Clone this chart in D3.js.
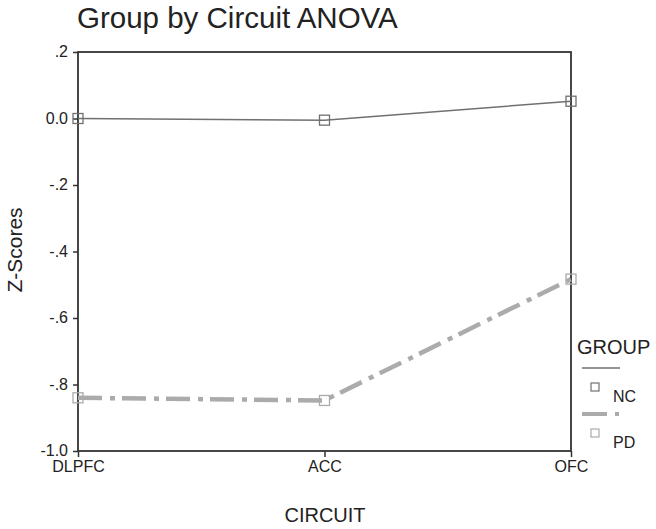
<!DOCTYPE html>
<html>
<head>
<meta charset="utf-8">
<script src="https://d3js.org/d3.v7.min.js"></script>
<style>
  body { margin: 0; background: #fff; }
  text { font-family: "Liberation Sans", Arial, sans-serif; fill: #222; }
</style>
</head>
<body>
<div id="chart"></div>
<script>
// data
var circuits = ["DLPFC", "ACC", "OFC"];
var ncValues = [0.0, -0.005, 0.052];
var pdValues = [-0.84, -0.848, -0.483];
var yTicks = [0.2, 0.0, -0.2, -0.4, -0.6, -0.8, -1.0];
var yTickLabels = [".2", "0.0", "-.2", "-.4", "-.6", "-.8", "-1.0"];
var groups = ["NC", "PD"];

var W = 656, H = 529;
var plotL = 78, plotR = 571, plotT = 52, plotB = 451;

var svg = d3.select("#chart").append("svg")
  .attr("width", W).attr("height", H);

var x = d3.scalePoint().domain(circuits).range([plotL, plotR]);
var y = d3.scaleLinear().domain([-1.0, 0.2]).range([plotB, plotT]);

// title
svg.append("text").attr("x", 77).attr("y", 28)
  .style("font-size", "29.5px").text("Group by Circuit ANOVA");

// frame
svg.append("rect").attr("x", plotL).attr("y", plotT)
  .attr("width", plotR - plotL).attr("height", plotB - plotT)
  .attr("fill", "none").attr("stroke", "#333").attr("stroke-width", 1.8);

// y axis
var yAxis = svg.append("g").attr("transform", "translate(" + plotL + ",0)")
  .call(d3.axisLeft(y).tickValues(yTicks).tickSize(5).tickSizeOuter(0)
    .tickFormat(function (d, i) { return yTickLabels[i]; }));
yAxis.select(".domain").remove();
yAxis.selectAll("line").attr("stroke", "#333").attr("stroke-width", 1.5);
yAxis.selectAll("text").style("font-size", "16px")
  .style("font-family", "Liberation Sans, Arial, sans-serif").attr("fill", "#222")
  .attr("x", -10).attr("dy", "0.3em");

// x axis
var xAxis = svg.append("g").attr("transform", "translate(0," + plotB + ")")
  .call(d3.axisBottom(x).tickSize(6).tickSizeOuter(0));
xAxis.select(".domain").remove();
xAxis.selectAll("line").attr("stroke", "#333").attr("stroke-width", 1.5);
xAxis.selectAll("text").style("font-size", "16px")
  .style("font-family", "Liberation Sans, Arial, sans-serif").attr("fill", "#222")
  .attr("y", 21).attr("dy", 0);

// axis titles
svg.append("text").attr("transform", "translate(22,250) rotate(-90)")
  .attr("text-anchor", "middle").style("font-size", "21px").text("Z-Scores");
svg.append("text").attr("x", 325).attr("y", 522)
  .attr("text-anchor", "middle").style("font-size", "20px").text("CIRCUIT");

var line = d3.line()
  .x(function (d, i) { return x(circuits[i]); })
  .y(function (d) { return y(d); });

var styles = {
  NC: { color: "#707070", width: 1.5, dash: null },
  PD: { color: "#ababab", width: 4.5, dash: "24,8,5,7" }
};
var series = [ncValues, pdValues];

series.forEach(function (vals, k) {
  var s = styles[groups[k]];
  svg.append("path").datum(vals).attr("d", line)
    .attr("fill", "none").attr("stroke", s.color)
    .attr("stroke-width", s.width)
    .attr("stroke-dasharray", s.dash);
  svg.selectAll(".m" + k).data(vals).enter().append("rect")
    .attr("x", function (d, i) { return x(circuits[i]) - 5; })
    .attr("y", function (d) { return y(d) - 5; })
    .attr("width", 10).attr("height", 10)
    .attr("fill", "none").attr("stroke", s.color).attr("stroke-width", 1.3);
});

// legend
var lg = svg.append("g");
lg.append("text").attr("x", 577).attr("y", 354).style("font-size", "20px").text("GROUP");
groups.forEach(function (g, k) {
  var s = styles[g];
  var oy = 368 + k * 46;
  lg.append("line").attr("x1", 582).attr("x2", 620).attr("y1", oy).attr("y2", oy)
    .attr("stroke", s.color).attr("stroke-width", s.width === 1.5 ? 1.5 : 4)
    .attr("stroke-dasharray", s.dash ? "25,8,4,30" : null);
  lg.append("rect").attr("x", 591).attr("y", oy + 15).attr("width", 8).attr("height", 8)
    .attr("fill", "none").attr("stroke", s.color).attr("stroke-width", 1.2);
  lg.append("text").attr("x", 613).attr("y", oy + 34).style("font-size", "16px").text(g);
});
</script>
</body>
</html>
